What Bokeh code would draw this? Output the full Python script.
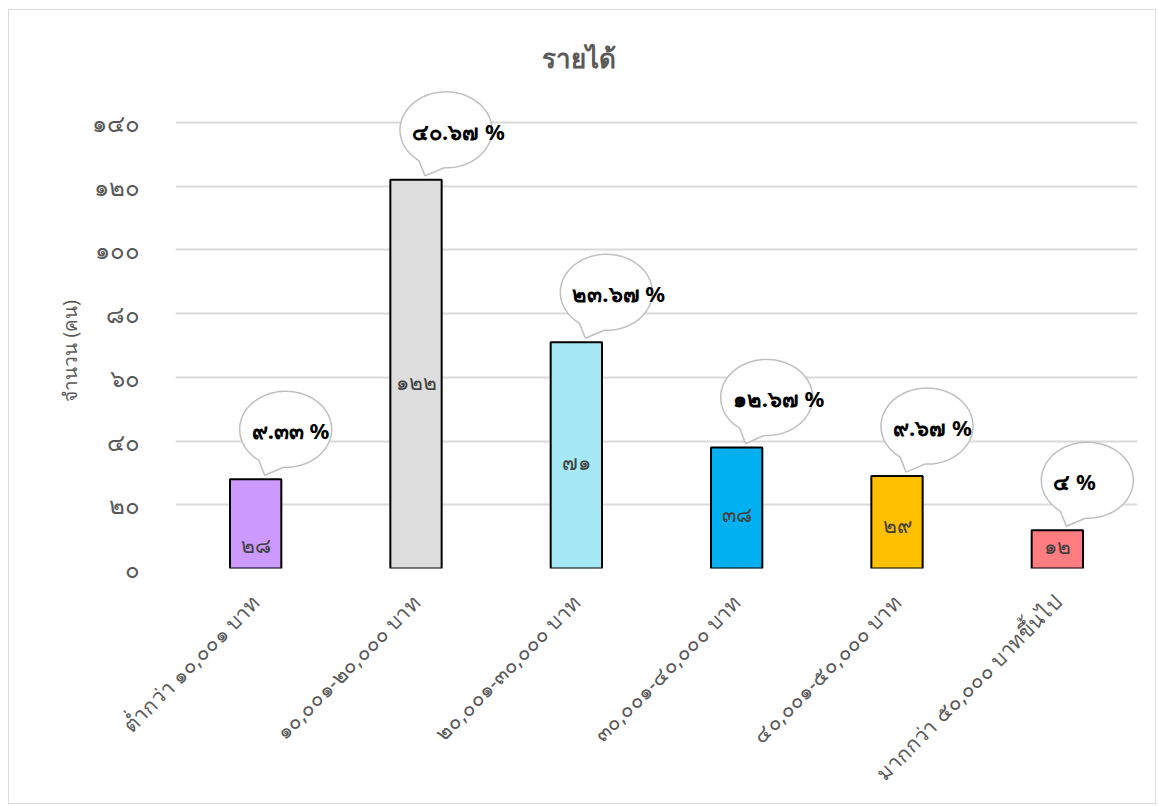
from math import pi

import numpy as np
from bokeh.core.properties import value
from bokeh.embed import file_html
from bokeh.models import FixedTicker, Range1d, Title
from bokeh.plotting import figure
from bokeh.resources import INLINE

# ---- data -------------------------------------------------------------
categories = [
    "ต่ำกว่า ๑๐,๐๐๑ บาท",
    "๑๐,๐๐๑-๒๐,๐๐๐ บาท",
    "๒๐,๐๐๑-๓๐,๐๐๐ บาท",
    "๓๐,๐๐๑-๔๐,๐๐๐ บาท",
    "๔๐,๐๐๑-๕๐,๐๐๐ บาท",
    "มากกว่า ๕๐,๐๐๐ บาทขึ้นไป",
]
counts = [28, 122, 71, 38, 29, 12]
bar_colors = ["#CC99FF", "#DDDDDD", "#A6E9F6", "#00B0F0", "#FFC000", "#FF7C80"]
y_ticks = [0, 20, 40, 60, 80, 100, 120, 140]
# where the count sits inside each bar, as a share of the bar height
count_label_share = [0.26, 0.48, 0.47, 0.45, 0.47, 0.6]

title_text = "รายได้"
y_title = "จำนวน (คน)"

THAI_DIGITS = str.maketrans("0123456789", "๐๑๒๓๔๕๖๗๘๙")


def thai(s):
    return str(s).translate(THAI_DIGITS)


total = sum(counts)
percents = [c * 100 / total for c in counts]
pct_labels = [thai(f"{p:.2f}".rstrip("0").rstrip(".")) + " %" for p in percents]

# ---- layout -----------------------------------------------------------
FONT = "Noto Sans"
GREY = "#595959"
W, H = 1148, 795
B_LEFT, B_RIGHT, B_TOP, B_BOTTOM = 166, 20, 70, 237
FRAME_W = W - B_LEFT - B_RIGHT
FRAME_H = H - B_TOP - B_BOTTOM
Y_PX = 446 / 140            # pixels per count on the value axis
X_PX = FRAME_W / len(categories)
y_end = FRAME_H / Y_PX

p = figure(
    width=W, height=H,
    x_range=Range1d(0.5, len(categories) + 0.5),
    y_range=Range1d(0, y_end),
    output_backend="svg", toolbar_location=None,
    min_border_left=B_LEFT, min_border_right=B_RIGHT,
    min_border_top=B_TOP, min_border_bottom=B_BOTTOM,
    margin=(9, 0, 0, 8),
    styles={"border": "1px solid #D9D9D9"},
)
p.outline_line_color = None
p.background_fill_color = "white"
p.border_fill_color = "white"

# chart title, centred on the whole chart rather than the plot frame
p.title.text = title_text
p.title.align = "left"
p.title.offset = 366
p.title.text_font = FONT
p.title.text_font_size = "26px"
p.title.text_font_style = "bold"
p.title.text_color = GREY

xs = list(range(1, len(categories) + 1))

# grid
p.xgrid.grid_line_color = None
p.ygrid.grid_line_color = "#D9D9D9"
p.ygrid.grid_line_width = 2

# axes
p.yaxis.ticker = FixedTicker(ticks=y_ticks)
p.yaxis.major_label_overrides = {t: thai(t) for t in y_ticks}
p.xaxis.ticker = FixedTicker(ticks=xs)
p.xaxis.major_label_overrides = {x: c for x, c in zip(xs, categories)}
p.xaxis.major_label_orientation = pi / 4
for ax in (p.xaxis, p.yaxis):
    ax.axis_line_color = None
    ax.major_tick_line_color = None
    ax.minor_tick_line_color = None
    ax.major_label_text_color = GREY
    ax.major_label_text_font = FONT
p.yaxis.major_label_text_font_size = "24px"
p.yaxis.major_label_standoff = 30
p.xaxis.major_label_text_font_size = "21px"
p.xaxis.major_label_standoff = 24

# value-axis title, centred on the 0-140 span of the axis
p.add_layout(Title(text=y_title, align="left", offset=167, text_font=FONT,
                   text_font_size="19px", text_font_style="normal",
                   text_color=GREY, standoff=11), "left")

# bars
p.vbar(x=xs, top=counts, width=0.32, fill_color=bar_colors,
       line_color="black", line_width=2)

# counts inside bars
p.text(x=xs, y=[c * s for c, s in zip(counts, count_label_share)],
       text=[thai(c) for c in counts], text_align="center",
       text_baseline="middle", text_color="#404040",
       text_font=value(FONT), text_font_size="21px")

# speech-bubble callouts with the percentage of each group
CX, CY, RA, RB = 30, -50, 46, 38     # ellipse centre offset and radii (px)
TIP = (9, -4)                        # tail tip offset from bar top (px)
t_left = np.arccos(-27 / RA)
t_right = np.arccos(-2 / RA)


def to_data(bx, top, dx, dy):
    return bx + dx / X_PX, top - dy / Y_PX


def on_ellipse(t, r=1.0):
    return CX + r * RA * np.cos(t), CY + r * RB * np.sin(t)


ell_x, ell_y, tail_x, tail_y, side_x, side_y = [], [], [], [], [], []
txt_x, txt_y = [], []
ts = np.linspace(0, 2 * pi, 160)
for bx, top in zip(xs, counts):
    ex, ey = on_ellipse(ts)
    dx, dy = to_data(bx, top, ex, ey)
    ell_x.append(list(dx)); ell_y.append(list(dy))

    lx, ly = on_ellipse(t_left)
    rx, ry = on_ellipse(t_right)
    arc_t = np.linspace(t_left, t_right, 20)
    ax_, ay_ = on_ellipse(arc_t, 0.88)
    px_ = [TIP[0], lx] + list(ax_) + [rx]
    py_ = [TIP[1], ly] + list(ay_) + [ry]
    dx, dy = to_data(bx, top, np.array(px_), np.array(py_))
    tail_x.append(list(dx)); tail_y.append(list(dy))

    dx, dy = to_data(bx, top, np.array([lx, TIP[0], rx]), np.array([ly, TIP[1], ry]))
    side_x.append(list(dx)); side_y.append(list(dy))

    tx, ty = to_data(bx, top, CX - 34, CY + 1)
    txt_x.append(tx); txt_y.append(ty)

p.patches(ell_x, ell_y, fill_color="white", line_color="#BFBFBF", line_width=1.5)
p.patches(tail_x, tail_y, fill_color="white", line_color=None)
p.multi_line(side_x, side_y, line_color="#BFBFBF", line_width=1.5)
p.text(x=txt_x, y=txt_y, text=pct_labels, text_align="left",
       text_baseline="middle", text_color="black", text_font=value(FONT),
       text_font_size="22px", text_font_style="bold")

open("out.html", "w").write(file_html(p, INLINE))
